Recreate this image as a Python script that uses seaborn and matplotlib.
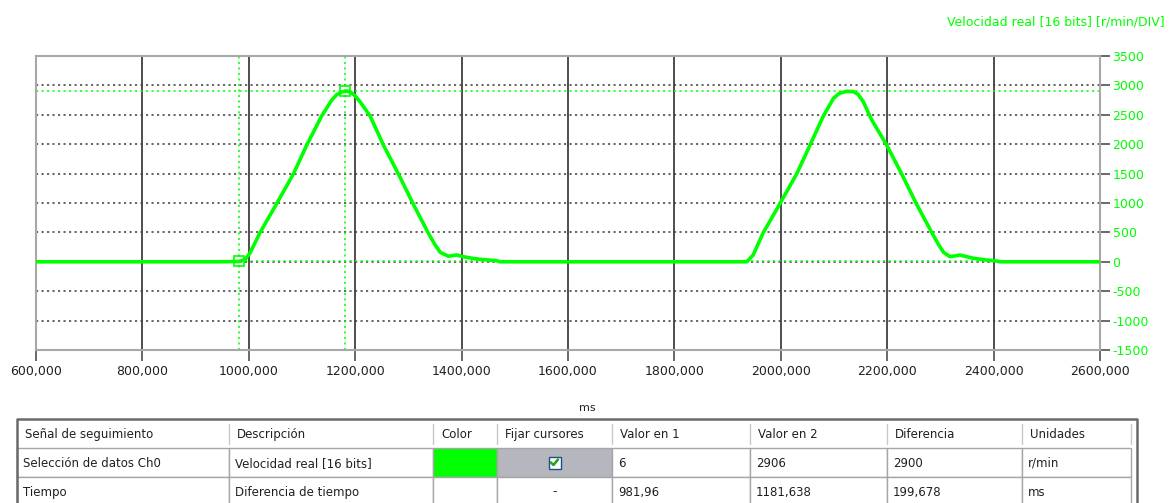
import matplotlib
matplotlib.use("Agg")
import matplotlib.pyplot as plt
import seaborn as sns
from matplotlib.patches import Rectangle
from matplotlib.lines import Line2D

# Recorded trace: real speed (r/min) over time (ms)
time_ms = [600, 940, 982, 993, 1002, 1021, 1052, 1084, 1109, 1137, 1156, 1165,
           1175, 1184, 1192, 1200, 1209, 1228, 1253, 1281, 1309, 1337, 1350,
           1360, 1375, 1391, 1403, 1420, 1435, 1452, 1466, 1472,
           1936, 1948, 1967, 1998, 2030, 2055, 2080, 2099, 2110, 2124, 2136,
           2145, 2155, 2171, 2199, 2227, 2255, 2284, 2296, 2306, 2318, 2337,
           2362, 2387, 2405, 2412, 2600]
velocity = [0, 0, 6, 40, 145, 495, 983, 1498, 1986, 2480, 2752, 2840,
            2890, 2905, 2880, 2820, 2723, 2480, 1986, 1498, 983, 495, 290,
            160, 95, 116, 87, 60, 42, 28, 19, 0,
            0, 115, 495, 983, 1498, 1986, 2480, 2780, 2865, 2900, 2895,
            2850, 2723, 2411, 1986, 1498, 983, 495, 300, 160, 87, 115,
            60, 30, 15, 0, 0]

x_ticks = [600, 800, 1000, 1200, 1400, 1600, 1800, 2000, 2200, 2400, 2600]
x_tick_labels = ["600,000", "800,000", "1000,000", "1200,000", "1400,000",
                 "1600,000", "1800,000", "2000,000", "2200,000", "2400,000",
                 "2600,000"]
y_ticks = [-1500, -1000, -500, 0, 500, 1000, 1500, 2000, 2500, 3000, 3500]
y_tick_labels = ["-1500", "-1000", "-500", "0", "500", "1000", "1500",
                 "2000", "2500", "3000", "3500"]

# Cursor positions (time, value)
cursor_t = [981.96, 1181.638]
cursor_v = [6, 2906]

axis_title = "Velocidad real [16 bits] [r/min/DIV]"
x_unit = "ms"

table_header = ["Señal de seguimiento", "Descripción", "Color", "Fijar cursores",
                "Valor en 1", "Valor en 2", "Diferencia", "Unidades"]
row_signal = ["Selección de datos Ch0", "Velocidad real [16 bits]", "", "",
              "6", "2906", "2900", "r/min"]
row_time = ["Tiempo", "Diferencia de tiempo", "", "-",
            "981,96", "1181,638", "199,678", "ms"]

GREEN = "#00ff00"
W, H = 1172, 503

sns.set_style("white")
plt.rcParams["font.family"] = ["DejaVu Sans"]

fig = plt.figure(figsize=(W / 100, H / 100), dpi=100)
ax = fig.add_axes([36 / W, (H - 350) / H, 1064 / W, 294 / H])

# grid: solid verticals, dotted horizontals
for xv in x_ticks[1:-1]:
    ax.axvline(xv, color="#1e1e1e", lw=1.1, zorder=1)
for yv in y_ticks[1:-1]:
    ax.axhline(yv, color="#3c3c3c", lw=1.1, ls=(0, (1.4, 2.2)), zorder=1)

# cursors
for t in cursor_t:
    ax.axvline(t, color=GREEN, lw=1.1, ls=(0, (1.4, 2.2)), zorder=2)
for v in cursor_v:
    ax.axhline(v, color=GREEN, lw=1.1, ls=(0, (1.4, 2.2)), zorder=2)

sns.lineplot(x=time_ms, y=velocity, ax=ax, color=GREEN, lw=2.6,
             estimator=None, sort=False, zorder=3)
ax.plot(cursor_t, cursor_v, ls="none", marker="s", ms=6.5, mfc="none",
        mec=GREEN, mew=1.2, zorder=4)

ax.set_xlim(600, 2600)
ax.set_ylim(-1500, 3500)
ax.set_xticks(x_ticks)
ax.set_xticklabels(x_tick_labels)
ax.set_yticks(y_ticks)
ax.set_yticklabels(y_tick_labels)
ax.yaxis.tick_right()
ax.tick_params(axis="y", which="both", right=True, left=False, length=7,
               width=1.2, color="#505050", labelcolor=GREEN, labelsize=9,
               pad=2, direction="out")
ax.tick_params(axis="x", which="both", bottom=True, length=8, width=1.2,
               color="#505050", labelcolor="#202020", labelsize=9, pad=3,
               direction="out")
ax.set_xlabel("")
ax.set_ylabel("")
for s in ax.spines.values():
    s.set_color("#a8a8a8")
    s.set_linewidth(1.5)
    s.set_visible(True)

fig.text(1165 / W, 1 - 22 / H, axis_title, color=GREEN, fontsize=9,
         ha="right", va="center")
fig.text(587 / W, 1 - 408 / H, x_unit, color="#202020", fontsize=8,
         ha="center", va="center")

# ---- cursor table ----
tab = fig.add_axes([0, 0, 1, 1])
tab.set_xlim(0, W)
tab.set_ylim(H, 0)
tab.axis("off")
tab.patch.set_alpha(0)

col_x = [17, 229, 433, 497, 612, 750, 887, 1022, 1131]
frame_r = 1137
head_top, head_bot = 419, 448
row_h = 29

tab.add_patch(Rectangle((17, head_top), frame_r - 17, H - head_top,
                        facecolor="white", edgecolor="none"))
for xs in col_x[1:]:
    tab.add_line(Line2D([xs, xs], [head_top + 5, head_bot - 4],
                        color="#c8c8c8", lw=1))
for i, lab in enumerate(table_header):
    tab.text(col_x[i] + 8, (head_top + head_bot) / 2 + 1, lab, fontsize=8.5,
             ha="left", va="center", color="#202020")

for r, row in enumerate([row_signal, row_time]):
    top = head_bot + r * row_h
    for c in range(len(row)):
        fc = "white"
        if r == 0 and c == 2:
            fc = GREEN
        elif r == 0 and c == 3:
            fc = "#b6b6bf"
        tab.add_patch(Rectangle((col_x[c], top), col_x[c + 1] - col_x[c],
                                row_h, facecolor=fc, edgecolor="#a6a6a6",
                                lw=1))
        txt = row[c]
        if not txt:
            continue
        if c == 3:
            tab.text((col_x[c] + col_x[c + 1]) / 2, top + row_h / 2, txt,
                     fontsize=8.5, ha="center", va="center", color="#202020")
        else:
            tab.text(col_x[c] + 6, top + row_h / 2 + 1, txt, fontsize=8.5,
                     ha="left", va="center", color="#202020")

# checkbox in the "Fijar cursores" cell of the signal row
cb_cx = (col_x[3] + col_x[4]) / 2
cb_cy = head_bot + row_h / 2
tab.add_patch(Rectangle((cb_cx - 6, cb_cy - 6), 12, 12, facecolor="white",
                        edgecolor="#1c5180", lw=1))
tab.add_line(Line2D([cb_cx - 3.5, cb_cx - 1, cb_cx + 3.5],
                    [cb_cy, cb_cy + 2.5, cb_cy - 3], color="#21a121", lw=1.8))

# outer frame of the table
tab.add_line(Line2D([17, 17, frame_r, frame_r], [H, head_top, head_top, H],
                    color="#6a6a6a", lw=1.8))

fig.savefig("out.png", dpi=100)
